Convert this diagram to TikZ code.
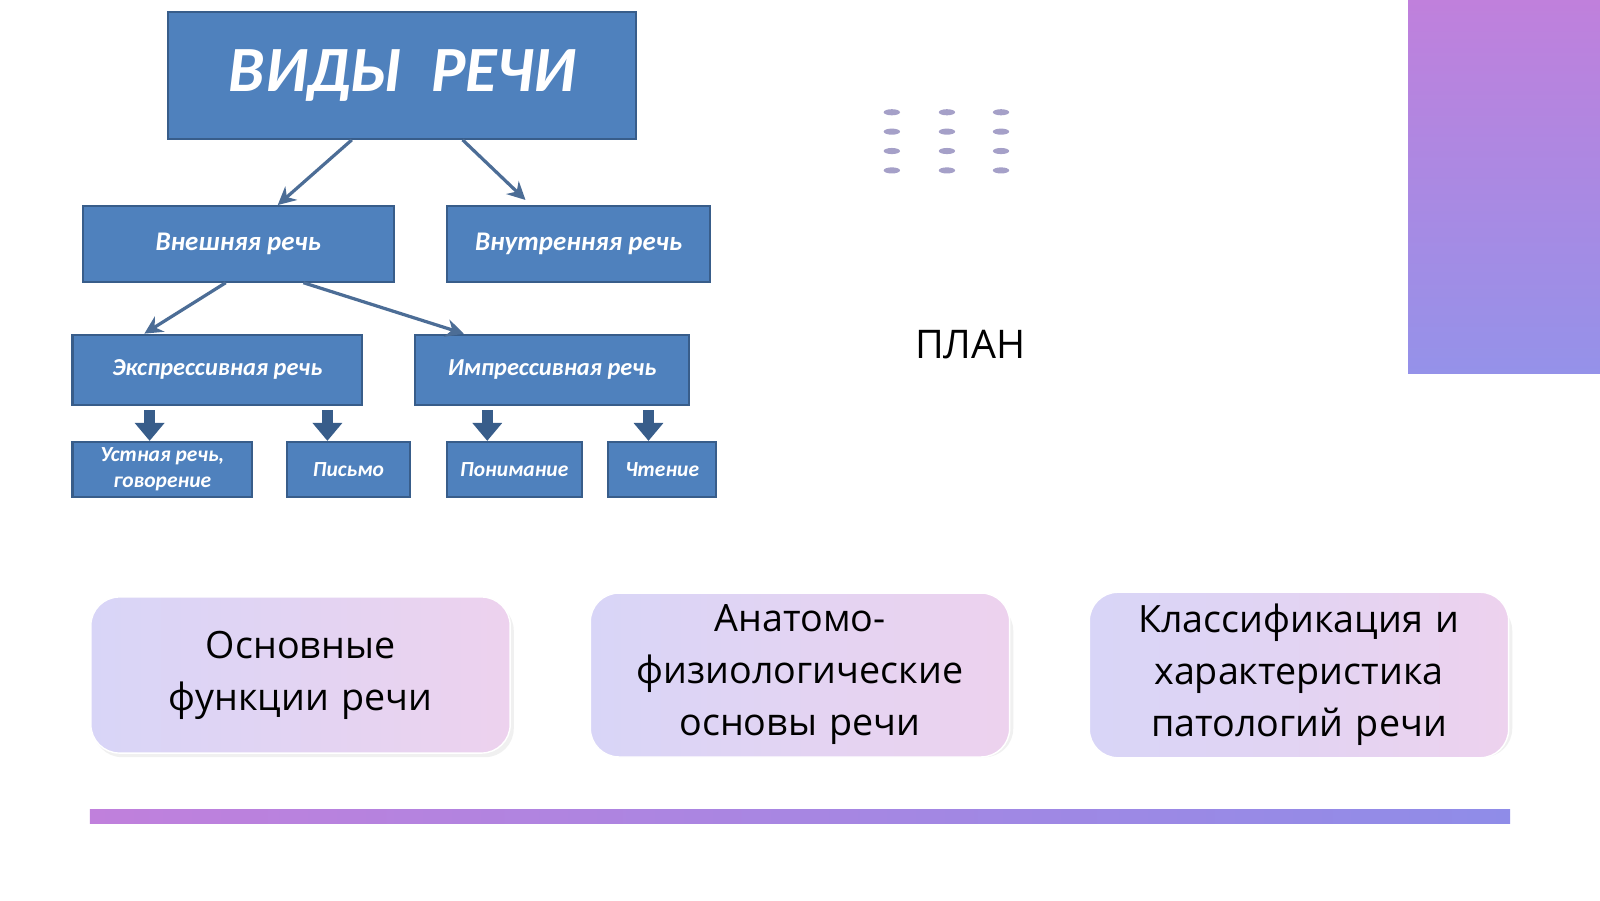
\documentclass[tikz,border=0pt]{standalone}
\usepackage{fontspec}
\setmainfont{Open Sans}
\newfontfamily\boxfont{Carlito}
\usetikzlibrary{positioning,calc,arrows.meta}
\definecolor{speechblue}{RGB}{79,129,189}
\definecolor{speechedge}{RGB}{56,93,138}
\definecolor{cardleft}{RGB}{216,213,247}
\definecolor{cardright}{RGB}{237,210,238}
\definecolor{barleft}{RGB}{192,128,220}
\definecolor{barright}{RGB}{143,140,232}
\definecolor{dotgray}{RGB}{165,160,200}

\tikzset{
  kindbox/.style={draw=speechedge, fill=speechblue, text=white, line width=0.6pt,
    font=\boxfont\bfseries\itshape, align=center, inner sep=1pt},
  thinlink/.style={->, >={Stealth[length=5pt,width=5pt]}, draw=speechedge!90, line width=0.9pt},
  blockarrow/.style={-{Triangle[length=5pt,width=8pt]}, draw=speechedge, line width=3pt},
  planbox/.style={rounded corners=8pt, left color=cardleft, right color=cardright,
    draw=white, align=center, font=\fontsize{10.5}{14.5}\selectfont, text width=38mm}
}

\begin{document}
\begin{tikzpicture}[x=0.1mm, y=-0.1mm]
    \useasboundingbox (0,0) rectangle (1568,882);
    \fill[white] (0,0) rectangle (1568,882);

    % right corner panel
    \fill[top color=barleft, bottom color=barright!95] (1380,0) rectangle (1568,366);

    % dots
    \foreach \cx in {874,928,981} {
        \foreach \cy in {110,129,148,167} {
            \fill[dotgray] (\cx,\cy) ellipse (8 and 3);
        }
    }

    % tree of speech kinds
    \node[kindbox, minimum width=45.8mm, minimum height=12.4mm, font=\boxfont\bfseries\itshape\fontsize{18}{20}\selectfont]
        (kinds) at (394,74) {ВИДЫ\ \ РЕЧИ};
    \node[kindbox, minimum width=30.5mm, minimum height=7.4mm, font=\boxfont\bfseries\itshape\fontsize{7.5}{9}\selectfont]
        (outer) at (233.5,239) {Внешняя речь};
    \node[kindbox, minimum width=25.8mm, minimum height=7.4mm, font=\boxfont\bfseries\itshape\fontsize{7.5}{9}\selectfont]
        (inner) at (567,239) {Внутренняя речь};
    \node[kindbox, minimum width=28.4mm, minimum height=6.9mm, font=\boxfont\bfseries\itshape\fontsize{6.8}{8}\selectfont]
        (expr) at (213,362.5) {Экспрессивная речь};
    \node[kindbox, minimum width=26.8mm, minimum height=6.9mm, font=\boxfont\bfseries\itshape\fontsize{6.8}{8}\selectfont]
        (impr) at (541,362.5) {Импрессивная речь};
    \node[kindbox, minimum width=17.6mm, minimum height=5.4mm, font=\boxfont\bfseries\itshape\fontsize{6}{7.4}\selectfont]
        (oral) at (159,460) {Устная речь,\\говорение};
    \node[kindbox, minimum width=12.1mm, minimum height=5.4mm, font=\boxfont\bfseries\itshape\fontsize{6}{7.4}\selectfont]
        (write) at (341.5,460) {Письмо};
    \node[kindbox, minimum width=13.2mm, minimum height=5.4mm, font=\boxfont\bfseries\itshape\fontsize{6}{7.4}\selectfont]
        (grasp) at (504,460) {Понимание};
    \node[kindbox, minimum width=10.6mm, minimum height=5.4mm, font=\boxfont\bfseries\itshape\fontsize{6}{7.4}\selectfont]
        (read) at (649,460) {Чтение};

    \draw[thinlink] ($(kinds.south west)!0.393!(kinds.south east)$) -- ($(outer.north west)!0.626!(outer.north east)$);
    \draw[thinlink] ($(kinds.south west)!0.629!(kinds.south east)$) -- ($(inner.north west)!0.30!(inner.north east)+(0,-5)$);
    \draw[thinlink] ($(outer.south west)!0.46!(outer.south east)$) -- ($(expr.north west)!0.25!(expr.north east)$);
    \draw[thinlink] ($(outer.south west)!0.708!(outer.south east)$) -- ($(impr.north west)!0.18!(impr.north east)$);

    \draw[blockarrow] ($(expr.south west)!0.268!(expr.south east)$) ++(0,4) -- ++(0,30);
    \draw[blockarrow] ($(expr.south west)!0.877!(expr.south east)$) ++(0,4) -- ++(0,30);
    \draw[blockarrow] ($(impr.south west)!0.265!(impr.south east)$) ++(0,4) -- ++(0,30);
    \draw[blockarrow] ($(impr.south west)!0.85!(impr.south east)$) ++(0,4) -- ++(0,30);

    % plan
    \node[font=\fontsize{11}{13}\selectfont] (plan) at (951,338) {ПЛАН};

    \foreach \px/\name/\txt in {
        294.5/funcs/{Основные функции речи},
        784/anat/{Анатомо-физиологические основы речи},
        1273/patho/{Классификация и характеристика патологий речи}} {
        \fill[black!6, rounded corners=8pt] (\px-203,590) rectangle (\px+209,742);
        \node[planbox, minimum width=41.1mm, minimum height=15.3mm] (\name) at (\px,661.5) {\txt};
    }

    % bottom bar
    \fill[left color=barleft, right color=barright] (88,793) rectangle (1480,807);
\end{tikzpicture}
\end{document}
